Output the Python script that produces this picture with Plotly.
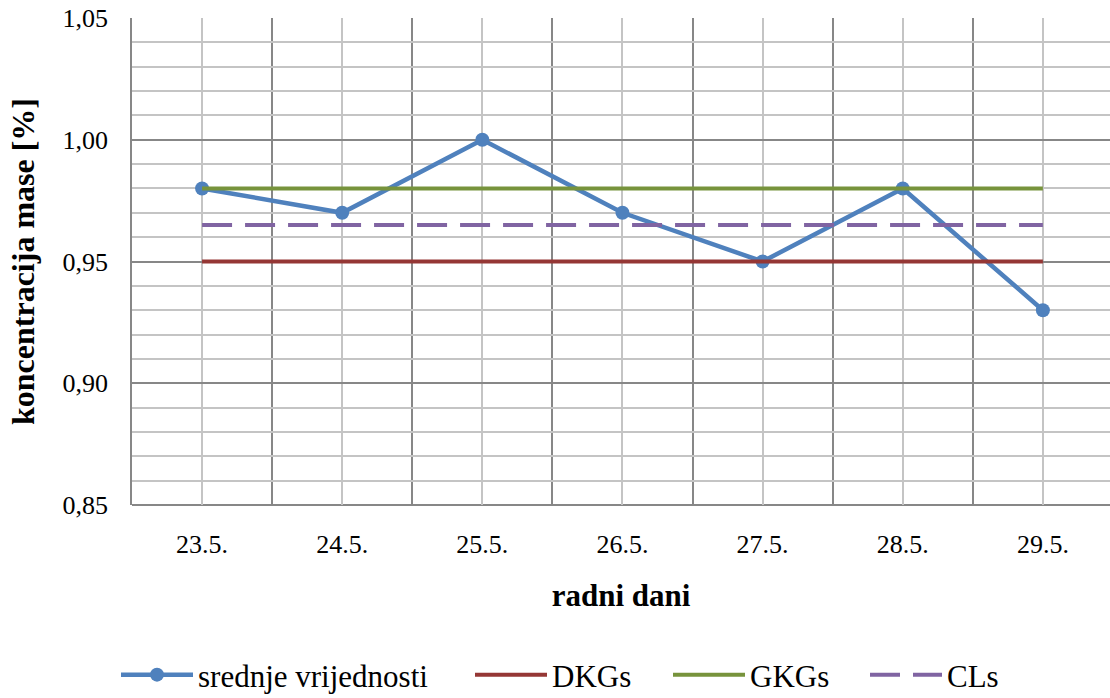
import plotly.graph_objects as go

dates = ["23.5.", "24.5.", "25.5.", "26.5.", "27.5.", "28.5.", "29.5."]
srednje = [0.98, 0.97, 1.00, 0.97, 0.95, 0.98, 0.93]
dkgs = 0.95
gkgs = 0.98
cls = 0.965

xi = list(range(len(dates)))
ends = [xi[0], xi[-1]]

FONT = "Times New Roman, Liberation Serif, serif"
DARK = "#878787"
LIGHT = "#c4c4c4"

fig = go.Figure()
fig.add_trace(go.Scatter(x=xi, y=srednje, name="srednje vrijednosti", mode="lines+markers",
                         line=dict(color="#4F81BD", width=4.5),
                         marker=dict(color="#4F81BD", size=14, symbol="circle"),
                         legend="legend"))
fig.add_trace(go.Scatter(x=ends, y=[dkgs, dkgs], name="DKGs", mode="lines",
                         line=dict(color="#953735", width=4), legend="legend2"))
fig.add_trace(go.Scatter(x=ends, y=[gkgs, gkgs], name="GKGs", mode="lines",
                         line=dict(color="#77933C", width=4), legend="legend3"))
fig.add_trace(go.Scatter(x=ends, y=[cls, cls], name="CLs", mode="lines",
                         line=dict(color="#8064A2", width=4, dash="30px,13px"), legend="legend4"))

W, H = 1110, 698
LEG_OFF = 6


def leg(px_left):
    return dict(orientation="h", xref="container", yref="container",
                x=(px_left - LEG_OFF) / W, xanchor="left",
                y=1 - 675 / H, yanchor="middle", font=dict(family=FONT, size=31),
                itemwidth=72, bgcolor="rgba(0,0,0,0)")


fig.update_layout(
    width=W, height=H,
    margin=dict(l=132, r=0, t=18, b=193),
    paper_bgcolor="white", plot_bgcolor="white",
    separators=",.",
    font=dict(family=FONT, size=26, color="black"),
    showlegend=True,
    legend=leg(122), legend2=leg(476), legend3=leg(674), legend4=leg(871),
    xaxis=dict(
        range=[-0.5, 6.479], tickmode="array", tickvals=xi, ticktext=dates,
        showgrid=True, gridcolor=LIGHT, gridwidth=1.5, zeroline=False,
        showline=False, ticks="", ticklabelstandoff=21,
        minor=dict(tickmode="array", tickvals=[i - 0.5 for i in range(len(dates) + 1)],
                   showgrid=True, gridcolor=DARK, gridwidth=1.5, ticks=""),
        title=dict(text="<b>radni dani</b>", font=dict(family=FONT, size=31), standoff=26),
    ),
    yaxis=dict(
        range=[0.85, 1.05], dtick=0.05, tick0=0.85, tickformat=".2f",
        showgrid=True, gridcolor=DARK, gridwidth=1.5, zeroline=False,
        showline=True, linecolor=DARK, linewidth=1.5, ticks="", ticklabelstandoff=17,
        minor=dict(dtick=0.01, showgrid=True, gridcolor=LIGHT, gridwidth=1.5, ticks=""),
        title=dict(text="<b>koncentracija mase [%]</b>", font=dict(family=FONT, size=32), standoff=18),
    ),
)
fig.add_shape(type="line", xref="paper", yref="paper", x0=0, x1=1, y0=0, y1=0,
              line=dict(color=DARK, width=2), layer="below")

fig.write_html("out.html", config={"displayModeBar": False},
               post_script="document.body.style.margin='0';document.body.style.overflow='hidden';")
